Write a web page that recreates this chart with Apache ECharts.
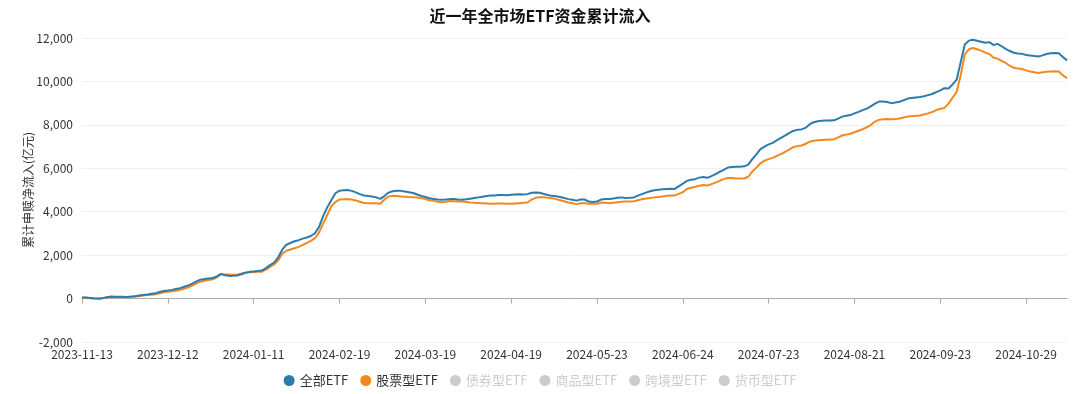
<!DOCTYPE html>
<html>
<head>
<meta charset="utf-8">
<script src="https://cdn.jsdelivr.net/npm/echarts@6/dist/echarts.min.js"></script>
<style>
html,body{margin:0;padding:0;background:#fff;}
#chart{width:1080px;height:394px;}
</style>
</head>
<body>
<div id="chart"></div>
<script>
const categories = [
'2023-11-13','2023-11-14','2023-11-15','2023-11-16','2023-11-17','2023-11-20','2023-11-21','2023-11-22','2023-11-23','2023-11-24','2023-11-27','2023-11-28','2023-11-29','2023-11-30',
'2023-12-01','2023-12-04','2023-12-05','2023-12-06','2023-12-07','2023-12-08','2023-12-11','2023-12-12','2023-12-13','2023-12-14','2023-12-15','2023-12-18','2023-12-19','2023-12-20','2023-12-21','2023-12-22','2023-12-25','2023-12-26','2023-12-27','2023-12-28','2023-12-29',
'2024-01-02','2024-01-03','2024-01-04','2024-01-05','2024-01-08','2024-01-09','2024-01-10','2024-01-11','2024-01-12','2024-01-15','2024-01-16','2024-01-17','2024-01-18','2024-01-19','2024-01-22','2024-01-23','2024-01-24','2024-01-25','2024-01-26','2024-01-29','2024-01-30','2024-01-31',
'2024-02-01','2024-02-02','2024-02-05','2024-02-06','2024-02-07','2024-02-08','2024-02-19','2024-02-20','2024-02-21','2024-02-22','2024-02-23','2024-02-26','2024-02-27','2024-02-28','2024-02-29',
'2024-03-01','2024-03-04','2024-03-05','2024-03-06','2024-03-07','2024-03-08','2024-03-11','2024-03-12','2024-03-13','2024-03-14','2024-03-15','2024-03-18','2024-03-19','2024-03-20','2024-03-21','2024-03-22','2024-03-25','2024-03-26','2024-03-27','2024-03-28','2024-03-29',
'2024-04-01','2024-04-02','2024-04-03','2024-04-08','2024-04-09','2024-04-10','2024-04-11','2024-04-12','2024-04-15','2024-04-16','2024-04-17','2024-04-18','2024-04-19','2024-04-22','2024-04-23','2024-04-24','2024-04-25','2024-04-26','2024-04-29','2024-04-30',
'2024-05-06','2024-05-07','2024-05-08','2024-05-09','2024-05-10','2024-05-13','2024-05-14','2024-05-15','2024-05-16','2024-05-17','2024-05-20','2024-05-21','2024-05-22','2024-05-23','2024-05-24','2024-05-27','2024-05-28','2024-05-29','2024-05-30','2024-05-31',
'2024-06-03','2024-06-04','2024-06-05','2024-06-06','2024-06-07','2024-06-11','2024-06-12','2024-06-13','2024-06-14','2024-06-17','2024-06-18','2024-06-19','2024-06-20','2024-06-21','2024-06-24','2024-06-25','2024-06-26','2024-06-27','2024-06-28',
'2024-07-01','2024-07-02','2024-07-03','2024-07-04','2024-07-05','2024-07-08','2024-07-09','2024-07-10','2024-07-11','2024-07-12','2024-07-15','2024-07-16','2024-07-17','2024-07-18','2024-07-19','2024-07-22','2024-07-23','2024-07-24','2024-07-25','2024-07-26','2024-07-29','2024-07-30','2024-07-31',
'2024-08-01','2024-08-02','2024-08-05','2024-08-06','2024-08-07','2024-08-08','2024-08-09','2024-08-12','2024-08-13','2024-08-14','2024-08-15','2024-08-16','2024-08-19','2024-08-20','2024-08-21','2024-08-22','2024-08-23','2024-08-26','2024-08-27','2024-08-28','2024-08-29','2024-08-30',
'2024-09-02','2024-09-03','2024-09-04','2024-09-05','2024-09-06','2024-09-09','2024-09-10','2024-09-11','2024-09-12','2024-09-13','2024-09-18','2024-09-19','2024-09-20','2024-09-23','2024-09-24','2024-09-25','2024-09-26','2024-09-27','2024-09-30',
'2024-10-08','2024-10-09','2024-10-10','2024-10-11','2024-10-14','2024-10-15','2024-10-16','2024-10-17','2024-10-18','2024-10-21','2024-10-22','2024-10-23','2024-10-24','2024-10-25','2024-10-28','2024-10-29','2024-10-30','2024-10-31',
'2024-11-01','2024-11-04','2024-11-05','2024-11-06','2024-11-07','2024-11-08','2024-11-11','2024-11-12'
];

const allEtf = [
50,45,30,10,0,20,60,90,85,80,80,75,90,110,140,165,190,220,250,300,
345,370,400,440,480,545,610,690,790,870,900,925,950,1020,1140,1070,1045,1050,1060,1120,
1190,1230,1250,1270,1290,1400,1540,1660,1900,2250,2480,2560,2640,2690,2760,2810,2880,3010,3300,3800,
4200,4530,4850,4970,4990,5000,4960,4890,4810,4750,4720,4700,4660,4590,4720,4880,4940,4960,4960,4930,
4900,4860,4790,4730,4680,4620,4590,4560,4550,4560,4580,4590,4560,4550,4570,4600,4630,4660,4690,4720,
4745,4750,4765,4770,4760,4780,4790,4800,4790,4810,4870,4890,4870,4820,4770,4730,4710,4680,4630,4580,
4550,4510,4560,4560,4470,4450,4470,4560,4590,4590,4610,4640,4660,4630,4640,4660,4740,4810,4880,4940,
4990,5010,5030,5050,5060,5050,5170,5290,5420,5470,5500,5570,5600,5560,5640,5730,5830,5930,6030,6060,
6070,6070,6090,6170,6420,6640,6880,7000,7100,7170,7290,7400,7500,7620,7720,7770,7790,7860,8020,8120,
8170,8190,8200,8200,8210,8290,8380,8420,8450,8530,8600,8680,8750,8850,8980,9070,9080,9050,9000,9030,
9065,9130,9210,9240,9260,9280,9320,9370,9420,9510,9590,9690,9670,9860,10080,10900,11700,11880,11920,11870,
11830,11780,11810,11680,11730,11620,11500,11400,11320,11290,11270,11220,11190,11170,11150,11200,11260,11300,11310,11300,
11130,10970
];

const stockEtf = [
40,35,20,0,-10,10,50,80,75,70,70,65,80,100,120,140,160,180,200,240,
285,310,340,365,400,455,520,600,700,780,820,860,890,980,1120,1110,1105,1100,1105,1150,
1190,1210,1220,1230,1240,1330,1460,1570,1760,2060,2200,2260,2320,2380,2470,2560,2660,2780,3050,3450,
3850,4250,4450,4560,4575,4580,4560,4520,4460,4400,4395,4395,4385,4370,4560,4700,4730,4720,4700,4690,
4675,4665,4650,4630,4580,4530,4500,4460,4440,4460,4490,4485,4475,4470,4450,4425,4410,4400,4395,4380,
4365,4370,4380,4375,4365,4365,4380,4395,4410,4425,4560,4640,4670,4665,4640,4625,4580,4530,4480,4420,
4395,4350,4390,4395,4370,4365,4365,4420,4410,4395,4410,4440,4455,4465,4475,4485,4530,4570,4610,4635,
4660,4680,4700,4730,4745,4750,4820,4900,5050,5100,5135,5200,5230,5210,5270,5340,5420,5500,5555,5550,
5530,5525,5530,5610,5850,6030,6230,6350,6420,6480,6570,6650,6750,6860,6970,7020,7050,7120,7220,7270,
7290,7300,7310,7320,7330,7420,7510,7550,7590,7660,7730,7800,7890,7990,8150,8230,8260,8265,8260,8275,
8295,8340,8380,8400,8420,8430,8480,8530,8590,8680,8740,8780,8980,9250,9520,10300,11250,11480,11540,11480,
11420,11330,11260,11100,11050,10950,10850,10720,10630,10590,10570,10510,10460,10420,10390,10420,10445,10460,10470,10460,
10280,10150
];

// hidden (legend-deselected) series in the reference
const bondEtf = [];
const commodityEtf = [];
const crossBorderEtf = [];
const moneyEtf = [];

const seriesNames = ['全部ETF','股票型ETF','债券型ETF','商品型ETF','跨境型ETF','货币型ETF'];
const seriesData = [allEtf, stockEtf, bondEtf, commodityEtf, crossBorderEtf, moneyEtf];
const seriesColors = ['#2b7bab','#f5871f','#8fd3a8','#a77ad1','#e45c5c','#58b8c9'];

const yTicks = {min: -2000, max: 12000, interval: 2000};

const chart = echarts.init(document.getElementById('chart'), null, {renderer: 'canvas'});
const FONT = '"Noto Sans CJK SC", "Noto Sans", sans-serif';

chart.setOption({
  animation: false,
  backgroundColor: '#ffffff',
  title: {
    text: '近一年全市场ETF资金累计流入',
    left: 'center',
    top: 3,
    textStyle: {fontFamily: FONT, fontSize: 16, fontWeight: 'bold', color: '#111'}
  },
  legend: {
    bottom: 2,
    left: 'center',
    icon: 'circle',
    itemWidth: 11,
    itemHeight: 11,
    itemGap: 12,
    data: seriesNames,
    selected: {'债券型ETF': false, '商品型ETF': false, '跨境型ETF': false, '货币型ETF': false},
    inactiveColor: '#cccccc',
    textStyle: {fontFamily: FONT, fontSize: 13, color: '#333'}
  },
  grid: {left: 82, right: 13, top: 38, bottom: 52, containLabel: false},
  xAxis: {
    type: 'category',
    data: categories,
    boundaryGap: false,
    axisLine: {lineStyle: {color: '#aaaaaa'}},
    axisTick: {interval: 20, length: 5, lineStyle: {color: '#aaaaaa'}},
    axisLabel: {interval: 20, fontFamily: FONT, fontSize: 12, color: '#333', margin: 6}
  },
  yAxis: {
    type: 'value',
    min: yTicks.min,
    max: yTicks.max,
    interval: yTicks.interval,
    name: '累计申赎净流入(亿元)',
    nameLocation: 'middle',
    nameGap: 48,
    nameMoveOverlap: false,
    nameTextStyle: {fontFamily: FONT, fontSize: 12, color: '#333'},
    axisLine: {show: false},
    axisTick: {show: false},
    axisLabel: {
      fontFamily: FONT, fontSize: 12, color: '#333', margin: 9,
      formatter: v => v.toLocaleString('en-US')
    },
    splitLine: {lineStyle: {color: '#eff0f6', type: 'solid', width: 1}}
  },
  series: seriesNames.map((n, k) => ({
    name: n,
    type: 'line',
    data: seriesData[k],
    showSymbol: false,
    symbol: 'circle',
    color: seriesColors[k],
    lineStyle: {width: 2, color: seriesColors[k]},
    z: k === 0 ? 3 : 2
  }))
});
</script>
</body>
</html>
